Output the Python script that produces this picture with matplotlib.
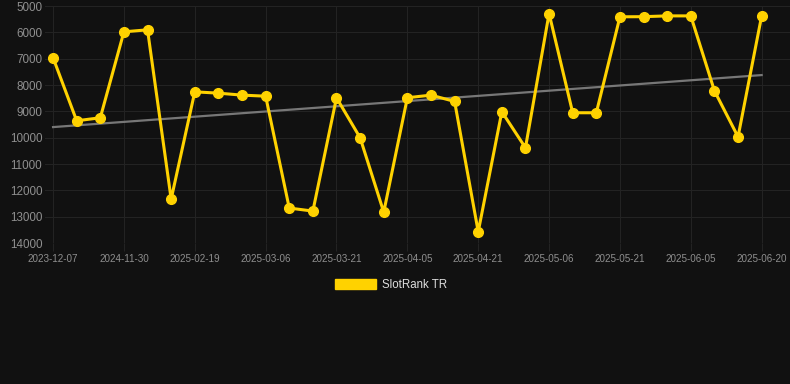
import matplotlib.pyplot as plt
import numpy as np

plt.rcParams['font.family'] = ['Liberation Sans', 'DejaVu Sans']

# SlotRank TR values, one point per observation (y axis inverted)
ranks = [6960, 9355, 9240, 5975, 5900, 12330, 8255, 8305, 8380, 8420,
         12670, 12785, 8480, 10000, 12825, 8480, 8380, 8620, 13570, 9010,
         10380, 5280, 9050, 9050, 5405, 5400, 5370, 5370, 8215, 9965, 5370]
date_labels = ['2023-12-07', '2024-11-30', '2025-02-19', '2025-03-06',
               '2025-03-21', '2025-04-05', '2025-04-21', '2025-05-06',
               '2025-05-21', '2025-06-05', '2025-06-20']
label_step = 3
y_ticks = [5000, 6000, 7000, 8000, 9000, 10000, 11000, 12000, 13000, 14000]

bg = '#111111'
gold = '#ffd200'
grid_c = '#232323'
text_c = '#8f8f8f'

fig = plt.figure(figsize=(7.9, 3.84), dpi=100, facecolor=bg)
ax = fig.add_axes([0.057, 0.367, 0.943, 0.617], facecolor=bg)

x = np.arange(len(ranks))
# linear trend line
k, b = np.polyfit(x, ranks, 1)
ax.plot(x, k * x + b, color='#777777', lw=1.6, zorder=2)

ax.plot(x, ranks, color=gold, lw=2.2, marker='o', markersize=7,
        zorder=3, label='SlotRank TR')

ax.set_ylim(14000, 5000)
ax.set_xlim(-0.34, 31.2)
ax.set_yticks(y_ticks)
ax.set_yticklabels([str(v) for v in y_ticks])
ax.set_xticks(x[::label_step])
ax.set_xticklabels(date_labels)

ax.grid(True, color=grid_c, lw=0.8)
ax.set_axisbelow(True)
for s in ax.spines.values():
    s.set_visible(False)
ax.tick_params(axis='y', length=0, labelsize=8.4, colors=text_c, pad=2)
ax.tick_params(axis='x', length=6, width=0.8, color=grid_c,
               labelsize=7.1, labelcolor=text_c, pad=2)

# legend below the plot
leg = fig.legend(handles=[plt.Rectangle((0, 0), 1, 1, color=gold)],
                 labels=['SlotRank TR'], loc='center',
                 bbox_to_anchor=(0.495, 0.258), frameon=False,
                 fontsize=8.3, handlelength=3.6, handleheight=0.9,
                 handletextpad=0.5)
for t in leg.get_texts():
    t.set_color('#dddddd')

fig.savefig('out.png', dpi=100, facecolor=bg)
